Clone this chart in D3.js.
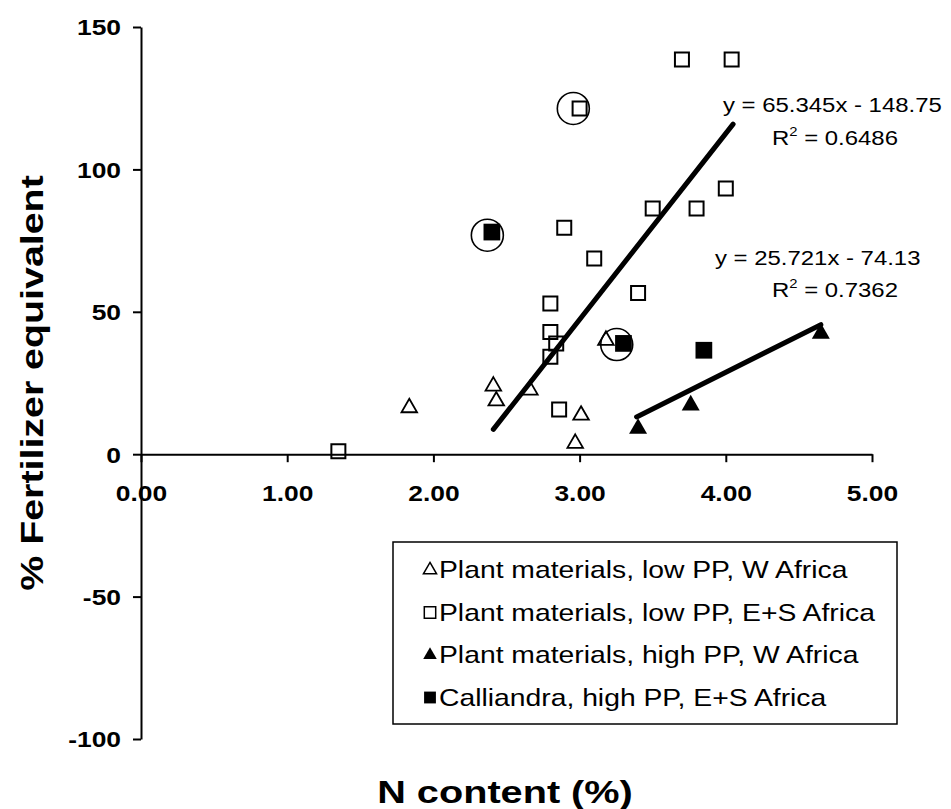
<!DOCTYPE html>
<html>
<head>
<meta charset="utf-8">
<script src="https://cdn.jsdelivr.net/npm/d3@7"></script>
<style>
  html, body { margin: 0; padding: 0; background: #fff; }
  svg { display: block; font-family: "Liberation Sans", Arial, Helvetica, sans-serif; }
</style>
</head>
<body>
<svg id="chart" width="951" height="809"></svg>
<script>
// N content (%) vs % fertilizer equivalent, four groups of materials
const lowPPWest = [[1.835, 16.3], [2.41, 23.9], [2.43, 18.7], [2.66, 22.5], [3.01, 13.7], [2.97, 3.8], [3.18, 40.0]];
const lowPPEastSouth = [[1.35, 1.0], [2.80, 52.9], [2.80, 42.9], [2.84, 38.9], [2.80, 34.2], [2.86, 15.7],
  [2.895, 79.5], [3.00, 121.4], [3.10, 68.7], [3.40, 56.6], [3.50, 86.3], [3.70, 138.6],
  [3.80, 86.3], [4.00, 93.3], [4.04, 138.6]];
const highPPWest = [[3.40, 9.0], [3.76, 17.2], [4.65, 42.4]];
const calliandraHighPP = [[2.40, 78.0], [3.30, 38.9], [3.85, 36.5]];
// highlighted observations (ringed)
const ringed = [[2.957, 121.4], [2.369, 76.9], [3.254, 38.5]];

// linear trendlines: slope, intercept, x-range
const trendSlopes = [65.345, 25.721];
const trendIntercepts = [-148.75, -74.13];
const trendRanges = [[2.41, 4.05], [3.39, 4.65]];
const trendEquations = ["y = 65.345x - 148.75", "y = 25.721x - 74.13"];
const trendR2 = ["0.6486", "0.7362"];

const xTicks = [0, 1, 2, 3, 4, 5];
const xTickLabels = ["0.00", "1.00", "2.00", "3.00", "4.00", "5.00"];
const yTicks = [-100, -50, 0, 50, 100, 150];
const yTickLabels = ["-100", "-50", "0", "50", "100", "150"];

const legendLabels = [
  "Plant materials, low PP, W Africa",
  "Plant materials, low PP, E+S Africa",
  "Plant materials, high PP, W Africa",
  "Calliandra, high PP, E+S Africa"
];

const SX = 1.2; // horizontal widening of the lettering
const svg = d3.select("#chart");

const x = d3.scaleLinear().domain([0, 5]).range([141, 872]);
const y = d3.scaleLinear().domain([-100, 150]).range([739, 27]);

// x axis through y = 0
const gx = svg.append("g")
  .attr("transform", `translate(0,${y(0)})`)
  .call(d3.axisBottom(x).tickValues(xTicks).tickFormat((d, i) => xTickLabels[i])
    .tickSizeInner(8).tickSizeOuter(0).tickPadding(23));
gx.select(".domain").attr("stroke", "#000").attr("stroke-width", 2);
gx.selectAll(".tick line").attr("stroke", "#000").attr("stroke-width", 2);
gx.selectAll(".tick text")
  .attr("fill", "#000").attr("font-size", 22).attr("font-weight", "bold")
  .attr("font-family", "'Liberation Sans', Arial, sans-serif")
  .attr("transform", `scale(${SX},1)`);

// y axis
const gy = svg.append("g")
  .attr("transform", `translate(${x(0)},0)`)
  .call(d3.axisLeft(y).tickValues(yTicks).tickFormat((d, i) => yTickLabels[i])
    .tickSizeInner(8).tickSizeOuter(0).tickPadding(12));
gy.select(".domain").attr("stroke", "#000").attr("stroke-width", 2);
gy.selectAll(".tick line").attr("stroke", "#000").attr("stroke-width", 2);
gy.selectAll(".tick text")
  .attr("fill", "#000").attr("font-size", 22).attr("font-weight", "bold")
  .attr("font-family", "'Liberation Sans', Arial, sans-serif")
  .attr("dy", "0.36em")
  .each(function () {
    const t = d3.select(this);
    const tx = +t.attr("x");
    t.attr("x", 0).attr("transform", `translate(${tx},0) scale(${SX},1)`);
  });

// axis titles
svg.append("text")
  .attr("transform", `translate(505,803) scale(1.24,1)`)
  .attr("text-anchor", "middle").attr("font-size", 32).attr("font-weight", "bold")
  .text("N content (%)");
svg.append("text")
  .attr("transform", `translate(43,383) rotate(-90) scale(1.23,1)`)
  .attr("text-anchor", "middle").attr("font-size", 32).attr("font-weight", "bold")
  .text("% Fertilizer equivalent");

// markers
const sym = (type, size) => d3.symbol().type(type).size(size)();
const plot = svg.append("g");

plot.selectAll(".lw").data(lowPPWest).join("path")
  .attr("transform", d => `translate(${x(d[0])},${y(d[1])})`)
  .attr("d", sym(d3.symbolTriangle, 105))
  .attr("fill", "none").attr("stroke", "#000").attr("stroke-width", 1.8);

plot.selectAll(".les").data(lowPPEastSouth).join("path")
  .attr("transform", d => `translate(${x(d[0])},${y(d[1])})`)
  .attr("d", sym(d3.symbolSquare, 196))
  .attr("fill", "none").attr("stroke", "#000").attr("stroke-width", 2);

plot.selectAll(".hw").data(highPPWest).join("path")
  .attr("transform", d => `translate(${x(d[0])},${y(d[1])})`)
  .attr("d", sym(d3.symbolTriangle, 140))
  .attr("fill", "#000");

plot.selectAll(".cal").data(calliandraHighPP).join("path")
  .attr("transform", d => `translate(${x(d[0])},${y(d[1])})`)
  .attr("d", sym(d3.symbolSquare, 280))
  .attr("fill", "#000");

plot.selectAll(".ring").data(ringed).join("circle")
  .attr("cx", d => x(d[0])).attr("cy", d => y(d[1])).attr("r", 16)
  .attr("fill", "none").attr("stroke", "#000").attr("stroke-width", 1.6);

// trendlines
trendSlopes.forEach((m, i) => {
  const [x0, x1] = trendRanges[i];
  const b = trendIntercepts[i];
  svg.append("line")
    .attr("x1", x(x0)).attr("y1", y(m * x0 + b))
    .attr("x2", x(x1)).attr("y2", y(m * x1 + b))
    .attr("stroke", "#000").attr("stroke-width", 5).attr("stroke-linecap", "round");
});

// trendline equations
const eqPos = [
  { ex: 723, ey: 112, rx: 772, ry: 145 },
  { ex: 715, ey: 265, rx: 772, ry: 297 }
];
eqPos.forEach((p, i) => {
  svg.append("text")
    .attr("transform", `translate(${p.ex},${p.ey}) scale(1.14,1)`)
    .attr("font-size", 21).text(trendEquations[i]);
  const r = svg.append("text")
    .attr("transform", `translate(${p.rx},${p.ry}) scale(1.14,1)`)
    .attr("font-size", 21);
  r.append("tspan").text("R");
  r.append("tspan").attr("font-size", 13).attr("dy", -9).text("2");
  r.append("tspan").attr("dy", 9).text(" = " + trendR2[i]);
});

// legend
const legend = svg.append("g");
legend.append("rect")
  .attr("x", 393).attr("y", 542).attr("width", 504).attr("height", 182)
  .attr("fill", "#fff").attr("stroke", "#000").attr("stroke-width", 1.5);
const legendMarks = [
  { type: d3.symbolTriangle, size: 75, filled: false },
  { type: d3.symbolSquare, size: 130, filled: false },
  { type: d3.symbolTriangle, size: 80, filled: true },
  { type: d3.symbolSquare, size: 140, filled: true }
];
legendLabels.forEach((label, i) => {
  const by = 578 + i * 42.5;
  const m = legendMarks[i];
  legend.append("path")
    .attr("transform", `translate(430,${by - 8})`)
    .attr("d", sym(m.type, m.size))
    .attr("fill", m.filled ? "#000" : "none")
    .attr("stroke", "#000").attr("stroke-width", m.filled ? 0 : 1.5);
  legend.append("text")
    .attr("transform", `translate(439,${by}) scale(${SX},1)`)
    .attr("font-size", 23.6).text(label);
});
</script>
</body>
</html>
